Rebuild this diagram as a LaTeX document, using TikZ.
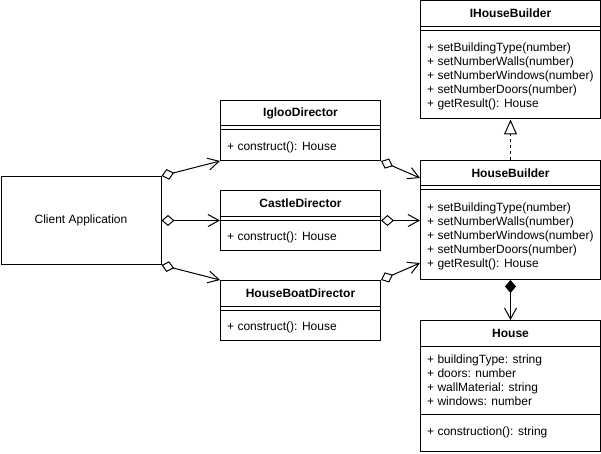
\documentclass[tikz,border=0pt]{standalone}
\usepackage{fontspec}
\setmainfont{Liberation Sans}
\usetikzlibrary{arrows.meta, calc, positioning}

\tikzset{
  box/.style={draw, line width=1pt, anchor=north west, inner sep=0pt},
  title/.style={font=\fontsize{12}{14}\selectfont\bfseries},
  members/.style={anchor=west, align=left, inner sep=0pt},
  assoc/.style={line width=1pt, {Diamond[open,length=13pt,width=11pt]}-{Straight Barb[length=11pt,width=12pt]}},
}

\begin{document}
\begin{tikzpicture}[x=1pt, y=-1pt, font=\fontsize{12}{14}\selectfont]
  \useasboundingbox (0,0) rectangle (601,454);

  % client
  \node [box, minimum width=160pt, minimum height=88pt] (client) at (0.5,176) {Client Application};

  % directors
  \node [box, minimum width=160pt, minimum height=60pt] (igloo) at (220,100) {};
  \node [title] (iglootitle) at ($(igloo.north)+(0,13)$) {IglooDirector};
  \draw [line width=1pt] ($(igloo.north west)+(0,26)$) -- ($(igloo.north east)+(0,26)$);
  \draw [line width=1pt] ($(igloo.north west)+(0,30)$) -- ($(igloo.north east)+(0,30)$);
  \node [members] (igloomethods) at ($(igloo.north west)+(7,47)$) {+ construct(): House};

  \node [box, minimum width=160pt, minimum height=60pt] (castle) at (220,190) {};
  \node [title] (castletitle) at ($(castle.north)+(0,13)$) {CastleDirector};
  \draw [line width=1pt] ($(castle.north west)+(0,26)$) -- ($(castle.north east)+(0,26)$);
  \draw [line width=1pt] ($(castle.north west)+(0,30)$) -- ($(castle.north east)+(0,30)$);
  \node [members] (castlemethods) at ($(castle.north west)+(7,47)$) {+ construct(): House};

  \node [box, minimum width=160pt, minimum height=60pt] (boat) at (220,280) {};
  \node [title] (boattitle) at ($(boat.north)+(0,13)$) {HouseBoatDirector};
  \draw [line width=1pt] ($(boat.north west)+(0,26)$) -- ($(boat.north east)+(0,26)$);
  \draw [line width=1pt] ($(boat.north west)+(0,30)$) -- ($(boat.north east)+(0,30)$);
  \node [members] (boatmethods) at ($(boat.north west)+(7,47)$) {+ construct(): House};

  % builders
  \node [box, minimum width=180pt, minimum height=118pt] (ihb) at (420,0.5) {};
  \node [title] (ihbtitle) at ($(ihb.north)+(0,13)$) {IHouseBuilder};
  \draw [line width=1pt] ($(ihb.north west)+(0,26)$) -- ($(ihb.north east)+(0,26)$);
  \draw [line width=1pt] ($(ihb.north west)+(0,30)$) -- ($(ihb.north east)+(0,30)$);
  \node [members] (ihbmethods) at ($(ihb.north west)+(7,76)$)
    {+ setBuildingType(number)\\+ setNumberWalls(number)\\+ setNumberWindows(number)\\+ setNumberDoors(number)\\+ getResult(): House};

  \node [box, minimum width=180pt, minimum height=119pt] (hb) at (420,160) {};
  \node [title] (hbtitle) at ($(hb.north)+(0,13)$) {HouseBuilder};
  \draw [line width=1pt] ($(hb.north west)+(0,26)$) -- ($(hb.north east)+(0,26)$);
  \draw [line width=1pt] ($(hb.north west)+(0,30)$) -- ($(hb.north east)+(0,30)$);
  \node [members] (hbmethods) at ($(hb.north west)+(7,76)$)
    {+ setBuildingType(number)\\+ setNumberWalls(number)\\+ setNumberWindows(number)\\+ setNumberDoors(number)\\+ getResult(): House};

  % product
  \node [box, minimum width=180pt, minimum height=131pt] (house) at (420,320) {};
  \node [title] (housetitle) at ($(house.north)+(0,13)$) {House};
  \draw [line width=1pt] ($(house.north west)+(0,26)$) -- ($(house.north east)+(0,26)$);
  \node [members] (housefields) at ($(house.north west)+(7,60)$)
    {+ buildingType: string\\+ doors: number\\+ wallMaterial: string\\+ windows: number};
  \draw [line width=1pt] ($(house.north west)+(0,94)$) -- ($(house.north east)+(0,94)$);
  \node [members] (housemethods) at ($(house.north west)+(7,112)$) {+ construction(): string};

  % connectors
  \draw [assoc] (client.north east) -- (igloo.south west);
  \draw [assoc] (client.east) -- (castle.west);
  \draw [assoc] (client.south east) -- (boat.north west);
  \draw [assoc] (igloo.south east) -- ($(hb.north west)+(0,18)$);
  \draw [assoc] (castle.east) -- (castle.east -| hb.west);
  \draw [assoc] (boat.north east) -- ($(hb.south west)+(0,-17)$);
  \draw [line width=1pt, dash pattern=on 3pt off 3pt, -{Triangle[open,length=15pt,width=13pt]}] (hb.north) -- (ihb.south);
  \draw [line width=1pt, {Diamond[length=13pt,width=11pt]}-{Straight Barb[length=11pt,width=12pt]}] (hb.south) -- (house.north);
\end{tikzpicture}
\end{document}
